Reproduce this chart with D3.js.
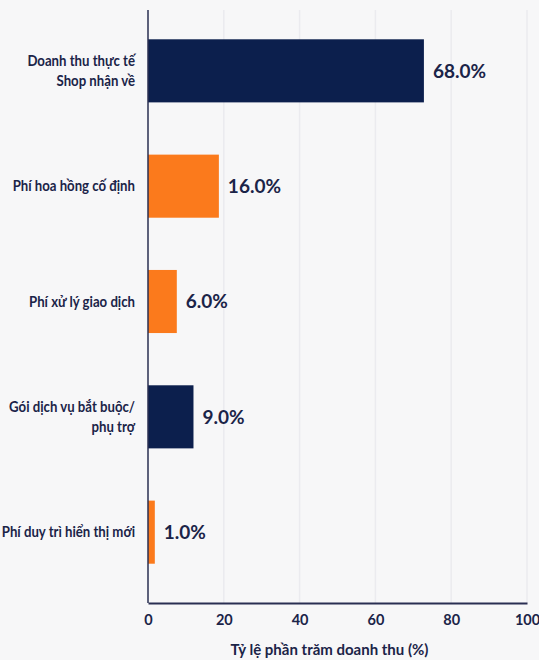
<!DOCTYPE html>
<html><head><meta charset="utf-8">
<script src="https://cdn.jsdelivr.net/npm/d3@7"></script>
<style>
html,body{margin:0;padding:0;background:#f7f7f8;}
svg{display:block;font-family:Lato,"Noto Sans",sans-serif;}
</style></head><body>
<div id="chart"></div>
<script>
const categories = [["Doanh thu thực tế","Shop nhận về"],["Phí hoa hồng cố định"],["Phí xử lý giao dịch"],["Gói dịch vụ bắt buộc/","phụ trợ"],["Phí duy trì hiển thị mới"]];
const barValues = [72.8, 18.7, 7.6, 12.0, 1.8];
const valueLabels = ["68.0%","16.0%","6.0%","9.0%","1.0%"];
const barColors = ["#0c1f4d","#fb7a1c","#fb7a1c","#0c1f4d","#fb7a1c"];
const xTicks = [0,20,40,60,80,100];
const xTitle = "Tỷ lệ phần trăm doanh thu (%)";

(function(){
const W = 539, H = 660;
const mLeft = 148, mRight = 527, mTop = 10, axisY = 603;
const svg = d3.select("#chart").append("svg").attr("width", W).attr("height", H);
svg.append("rect").attr("width", W).attr("height", H).attr("fill", "#f7f7f8");

const x = d3.scaleLinear().domain([0,100]).range([mLeft, mRight]);
const idx = d3.range(categories.length);
const y = d3.scaleBand().domain(idx).range([mTop, 593]).paddingInner(0.453).paddingOuter(0.254);

// grid
svg.append("g").selectAll("line").data(xTicks.slice(1)).join("line")
  .attr("x1", d => x(d)).attr("x2", d => x(d)).attr("y1", mTop).attr("y2", axisY)
  .attr("stroke", "#ebebef").attr("stroke-width", 1.5);

// bars
svg.append("g").selectAll("rect").data(idx).join("rect")
  .attr("x", x(0)).attr("y", i => y(i)).attr("width", i => x(barValues[i]) - x(0))
  .attr("height", y.bandwidth()).attr("fill", i => barColors[i]);

// value labels
svg.append("g").selectAll("text").data(idx).join("text")
  .attr("x", i => x(barValues[i]) + 9).attr("y", i => y(i) + y.bandwidth()/2)
  .attr("dy", "0.36em").attr("font-size", 19).attr("font-weight", 700).attr("fill", "#1b2448")
  .text(i => valueLabels[i]);

// category labels
const cg = svg.append("g");
idx.forEach(i => {
  const lines = categories[i];
  const lh = 20;
  const cy = y(i) + y.bandwidth()/2;
  const t = cg.append("text").attr("text-anchor", "end").attr("font-size", 15).attr("font-weight", 700).attr("fill", "#1b2448")
    .attr("transform", `translate(135,${cy}) scale(0.88,1)`);
  lines.forEach((ln, k) => {
    t.append("tspan").attr("x", 0).attr("y", (k - (lines.length-1)/2) * lh).attr("dy", "0.35em").text(ln);
  });
});

// axes
const xAxis = d3.axisBottom(x).tickValues(xTicks).tickSize(0).tickPadding(12).tickFormat(d3.format("d"));
const gx = svg.append("g").attr("transform", `translate(0,${axisY})`).call(xAxis);
gx.select(".domain").attr("stroke", "#2a2f52").attr("stroke-width", 2);
gx.selectAll("text").attr("font-size", 14.5).attr("font-weight", 700).attr("fill", "#1b2448").attr("font-family", "Lato,'Noto Sans',sans-serif");

const yAxis = d3.axisLeft(y).tickSize(0).tickFormat("");
const gy = svg.append("g").attr("transform", `translate(${mLeft},0)`).call(yAxis);
gy.select(".domain").attr("d", `M0,${mTop}V${axisY}`).attr("stroke", "#2a2f52").attr("stroke-width", 1.5);

svg.append("text").attr("x", x(50) - 8).attr("y", 650).attr("dy", "0.35em")
  .attr("text-anchor", "middle").attr("font-size", 15).attr("font-weight", 700).attr("fill", "#1b2448")
  .text(xTitle);
})();
</script>
</body></html>
